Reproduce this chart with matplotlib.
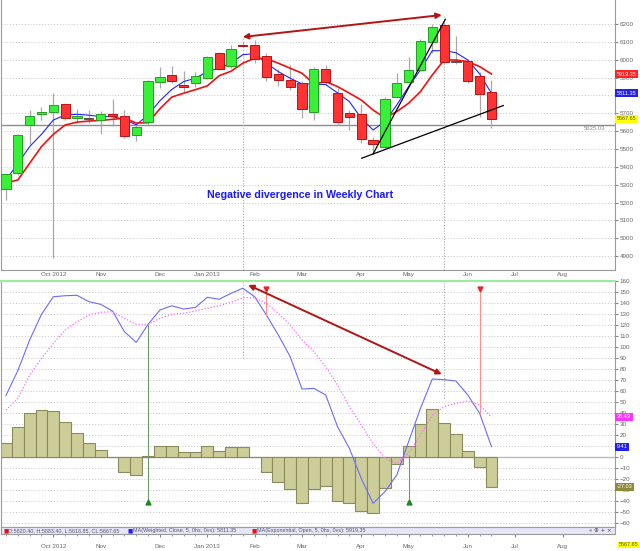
import numpy as np
import matplotlib
matplotlib.use("Agg")
import matplotlib.pyplot as plt
from matplotlib.patches import Rectangle

plt.rcParams["font.family"] = ["Liberation Sans", "DejaVu Sans"]

# weekly candles, Sep 2012 - Jun 2013
opens = [5278, 5364, 5633, 5694, 5706, 5750, 5676, 5667, 5662, 5695,
         5685, 5578, 5650, 5877, 5914, 5858, 5868, 5899, 6039, 5967,
         6084, 6082, 6023, 5918, 5886, 5868, 5707, 5946, 5812, 5703,
         5696, 5550, 5510, 5790, 5877, 5942, 6098, 6194, 5987, 5995,
         5909, 5820.40]
highs = [5365, 5583, 5718, 5737, 5815, 5755, 5722, 5718, 5715, 5780,
         5718, 5644, 5886, 5961, 5965, 5937, 5933, 6021, 6045, 6082,
         6101, 6110, 6039, 5946, 5970, 5880, 5957, 5970, 5840, 5718,
         5752, 5569, 5790, 5927, 6017, 6114, 6200, 6204, 6133, 6005,
         5933, 5883.40]
lows = [5214, 5355, 5530, 5662, 4888, 5660, 5653, 5644, 5582, 5629,
        5560, 5547, 5634, 5840, 5868, 5821, 5845, 5894, 5942, 5955,
        6070, 5983, 5882, 5853, 5830, 5672, 5662, 5860, 5634, 5606,
        5535, 5485, 5505, 5785, 5870, 5935, 6040, 5975, 5975, 5871,
        5681, 5618.85]
closes = [5360, 5578, 5686, 5706, 5746, 5675, 5684, 5667, 5698, 5685,
          5573, 5625, 5881, 5905, 5881, 5846, 5909, 6013, 5950, 6062,
          6074, 6002, 5905, 5886, 5849, 5722, 5946, 5877, 5650, 5681,
          5554, 5528, 5782, 5871, 5942, 6105, 6185, 5985, 5987, 5881,
          5808, 5667.65]

wma_close = [5326, 5418, 5513, 5582, 5662, 5690, 5694, 5689, 5681, 5681,
             5665, 5635, 5690, 5770, 5833, 5877, 5896, 5933, 5952, 5980,
             6028, 6033, 5980, 5933, 5896, 5864, 5864, 5860, 5814, 5765,
             5672, 5606, 5653, 5746, 5849, 5942, 6050, 6050, 6039, 5998,
             5920, 5811.35]
ema_open = [5310, 5326, 5420, 5513, 5582, 5634, 5650, 5656, 5660, 5666,
            5672, 5645, 5647, 5725, 5790, 5812, 5832, 5853, 5910, 5935,
            5980, 6008, 6005, 5980, 5952, 5924, 5864, 5877, 5849, 5812,
            5774, 5718, 5674, 5709, 5756, 5821, 5914, 5998, 5998, 5989,
            5961, 5919.35]

osc_line = [56, 78.5, 106.4, 129.7, 145.7, 146.6, 147, 141.2, 138.8, 132.7,
            113.9, 104.2, 120.6, 133.6, 137.5, 134.5, 136, 145.2, 143.4, 148.8,
            153.4, 145.7, 129, 110.9, 91.2, 61.8, 62.4, 56.4, 27.6, 7.9,
            -19.4, -42.1, -31.5, -16.4, 13.9, 44.2, 70.9, 70.3, 69.1, 56.4,
            39.7, 9.41]
osc_signal = [42.7, 53.3, 74.5, 89.7, 103.3, 115.5, 123, 129, 131.5, 132.1,
              126.1, 120.6, 120.6, 126, 129.7, 130.6, 132.7, 135.2, 137.5, 140.6,
              144.8, 144.8, 139.7, 130.6, 120, 106.4, 95.8, 82.1, 65.5, 45.8,
              29.1, 12.4, -1.2, -5.8, 3.3, 20, 38.2, 45.8, 48.8, 50.9,
              47.3, 36.43]
osc_hist = [12.4, 27, 40.3, 42.7, 42.1, 31.5, 22.1, 12.4, 6.4, 0.4,
            -13.3, -16.4, 0.6, 9.7, 9.7, 4.8, 4.2, 9.7, 5.8, 9.1,
            9.1, 0.3, -13.3, -22.4, -28.8, -41.5, -28.8, -26.4, -39.7, -42.1,
            -49.1, -50.6, -27.9, -6.7, 10, 29.7, 43.6, 30.6, 20.6, 5.5,
            -9.1, -27.03]

month_pos = [4, 8, 13, 17, 21, 25, 30, 34, 39, 43, 47]
month_labels = ["Oct 2012", "Nov", "Dec", "Jan 2013", "Feb", "Mar",
                "Apr", "May", "Jun", "Jul", "Aug"]

# drawn annotations (index, value)
price_arrow = [(20.0, 6127), (36.8, 6250)]
osc_arrow = [(20.46, 156.4), (36.8, 75.2)]
trend_steep = [(31.0, 5472), (37.1, 6226)]
trend_support = [(30.04, 5448), (42.0, 5743)]
buy_signals = [(12, 120.6), (34, 1.8)]
sell_signals = [(22, 128), (40, 39)]
signal_marker_low, signal_marker_high = -40.6, 152.7
pivot_lines = [(20, 6127, 90), (37, 6250, 53.6)]
ref_level = 5635.03

W, H = 640, 551
x = np.arange(len(closes))
XLIM = (-0.42, 51.43)


def rect(top, bottom):
    return [1 / W, 1 - bottom / H, 614 / W, (bottom - top) / H]


fig = plt.figure(figsize=(W / 100, H / 100), dpi=100)
ax1 = fig.add_axes(rect(0, 270))
ax2 = fig.add_axes(rect(281, 527))
axl = fig.add_axes(rect(527, 534))

for ax in (ax1, ax2, axl):
    ax.set_xlim(*XLIM)
    for s in ax.spines.values():
        s.set_color("#9a9a9a")
        s.set_linewidth(0.8)

# ---- price panel
ax1.set_ylim(4822, 6334)
ax1.spines["top"].set_visible(False)
ax1.set_yticks(np.arange(4900, 6201, 100))
ax1.yaxis.tick_right()
ax1.tick_params(axis="y", labelsize=4.5, labelcolor="#666666", color="#888888",
                length=2, pad=1.5)
ax1.set_xticks(month_pos)
ax1.set_xticklabels(month_labels)
ax1.tick_params(axis="x", length=0, pad=1.2, labelsize=4.5, labelcolor="#666666")
ax1.grid(axis="y", linestyle=(0, (1, 2)), color="#c4c4c4", lw=0.7)
ax1.set_axisbelow(True)

ax1.axhline(ref_level, color="#8c8c8c", lw=1, zorder=1.5)
ax1.text(0.985, ref_level - 8, "%.2f" % ref_level, transform=ax1.get_yaxis_transform(),
         ha="right", va="top", fontsize=4.3, color="#888888")

ax1.vlines(x, lows, highs, color="#a8a8a8", lw=0.9, zorder=2)
ax1.plot(x, wma_close, color="#2222ff", lw=0.8, zorder=2.5)
ax1.plot(x, ema_open, color="#ee1111", lw=1.2, zorder=2.5)
for i in x:
    o, c = opens[i], closes[i]
    if c > o:
        fc, ec = "#38f038", "#22a022"
    elif c < o:
        fc, ec = "#ff3333", "#bb1111"
    else:
        fc, ec = "#666666", "#555555"
    ax1.add_patch(Rectangle((i - 0.39, min(o, c)), 0.78, max(abs(c - o), 4),
                            fc=fc, ec=ec, lw=0.7, zorder=3))

for (x0, y0), (x1, y1) in (trend_steep, trend_support):
    ax1.plot([x0, x1], [y0, y1], color="black", lw=0.9, zorder=4)

for px, ptop, pbottom in pivot_lines:
    ax1.vlines(px, 4822, ptop, color="#aaaaaa", lw=0.8, linestyle=(0, (1, 1.5)), zorder=1.8)
    ax2.vlines(px, pbottom, 165, color="#aaaaaa", lw=0.8, linestyle=(0, (1, 1.5)), zorder=1.8)

arrow_kw = dict(arrowstyle="<|-|>", color="#b41414", lw=1.4, mutation_scale=8,
                shrinkA=0, shrinkB=0)
ax1.annotate("", xy=price_arrow[1], xytext=price_arrow[0], arrowprops=arrow_kw, zorder=5)

ax1.text(24.87, 5242, "Negative divergence in Weekly Chart", ha="center", va="center",
         fontsize=7.7, color="#1a1aff", fontweight="bold")


def value_tag(ax, y, text, fc, tc):
    ax.text(1.003, y, text, transform=ax.get_yaxis_transform(), fontsize=4.0,
            color=tc, va="center", ha="left", clip_on=False, zorder=10,
            bbox=dict(boxstyle="square,pad=0.3", fc=fc, ec="none"))


value_tag(ax1, ema_open[-1], "%.2f" % ema_open[-1], "#ff2222", "white")
value_tag(ax1, wma_close[-1], "%.2f" % wma_close[-1], "#2222ee", "white")
value_tag(ax1, closes[-1], "%.2f" % closes[-1], "#ffff00", "#555555")

# ---- oscillator panel
ax2.set_ylim(-63.6, 160)
ax2.spines["top"].set_color("#99ee99")
ax2.spines["top"].set_linewidth(1.5)
ax2.set_yticks(np.arange(-60, 161, 10))
ax2.yaxis.tick_right()
ax2.tick_params(axis="y", labelsize=4.5, labelcolor="#666666", color="#888888",
                length=2, pad=1.5)
ax2.set_xticks([])
ax2.grid(axis="y", linestyle=(0, (1, 2)), color="#c4c4c4", lw=0.7)
ax2.set_axisbelow(True)

ax2.bar(x, osc_hist, width=1.0, color="#cdcd9a", edgecolor="#8a8a5a", lw=0.8, zorder=2)
ax2.axhline(0, color="#bbbbbb", lw=1, zorder=1.9)
ax2.plot(x, osc_line, color="#6b6bff", lw=0.8, zorder=3)
ax2.plot(x, osc_signal, color="#ff66ff", lw=0.9, linestyle=(0, (1, 1.5)), zorder=3)

for sx, sy in buy_signals:
    ax2.vlines(sx, signal_marker_low, sy, color="#6e9a6e", lw=0.8, zorder=3.5)
    ax2.plot(sx, signal_marker_low, marker="^", ms=3.5, color="#1a8a1a", zorder=4)
for sx, sy in sell_signals:
    ax2.vlines(sx, sy, signal_marker_high, color="#ff9090", lw=0.8, zorder=3.5)
    ax2.plot(sx, signal_marker_high, marker="v", ms=3.5, color="#ee2222", zorder=4)

ax2.annotate("", xy=osc_arrow[1], xytext=osc_arrow[0], arrowprops=arrow_kw, zorder=5)

value_tag(ax2, osc_signal[-1], "%.2f" % osc_signal[-1], "#ff33ff", "white")
value_tag(ax2, osc_line[-1], "%.2f" % osc_line[-1], "#2222ee", "white")
value_tag(ax2, osc_hist[-1], "%.2f" % osc_hist[-1], "#8b8b3a", "white")

# ---- legend strip + date axis
axl.set_facecolor("#e6e6f6")
axl.spines["top"].set_color("#9a9ac0")
axl.set_yticks([])
axl.set_xticks(month_pos)
axl.set_xticklabels(month_labels)
axl.set_xticks(x, minor=True)
axl.tick_params(axis="x", which="major", length=2, pad=5, labelsize=4.5,
                labelcolor="#666666", color="#888888")
axl.tick_params(axis="x", which="minor", length=1.5, color="#888888")

legend_items = [
    (3, "#ee1111", "O:%.2f, H:%.2f, L:%.2f, CL:%.2f" % (opens[-1], highs[-1], lows[-1], closes[-1])),
    (128, "#2222ee", "MA(Weighted, Close, 5, 0hs, 0vs): %.2f" % wma_close[-1]),
    (252, "#ee1111", "MA(Exponential, Open, 5, 0hs, 0vs): %.2f" % ema_open[-1]),
]
ly = 1 - 530.5 / H
for px, col, txt in legend_items:
    fig.text(px / W, ly, "\u25a0", color=col, fontsize=4.0, va="center", ha="left",
             family="DejaVu Sans")
    fig.text((px + 5) / W, ly, txt, color="#555577", fontsize=3.9, va="center", ha="left")
fig.text(612 / W, ly, "\u00ab \u2295 + \u00d7", color="#444444", fontsize=4.0,
         va="center", ha="right", family="DejaVu Sans")
fig.text(619 / W, 1 - 545 / H, "%.2f" % closes[-1], fontsize=4.0, color="#555555",
         va="center", ha="left", bbox=dict(boxstyle="square,pad=0.15", fc="#ffff00", ec="none"))

fig.savefig("out.png", dpi=100)
